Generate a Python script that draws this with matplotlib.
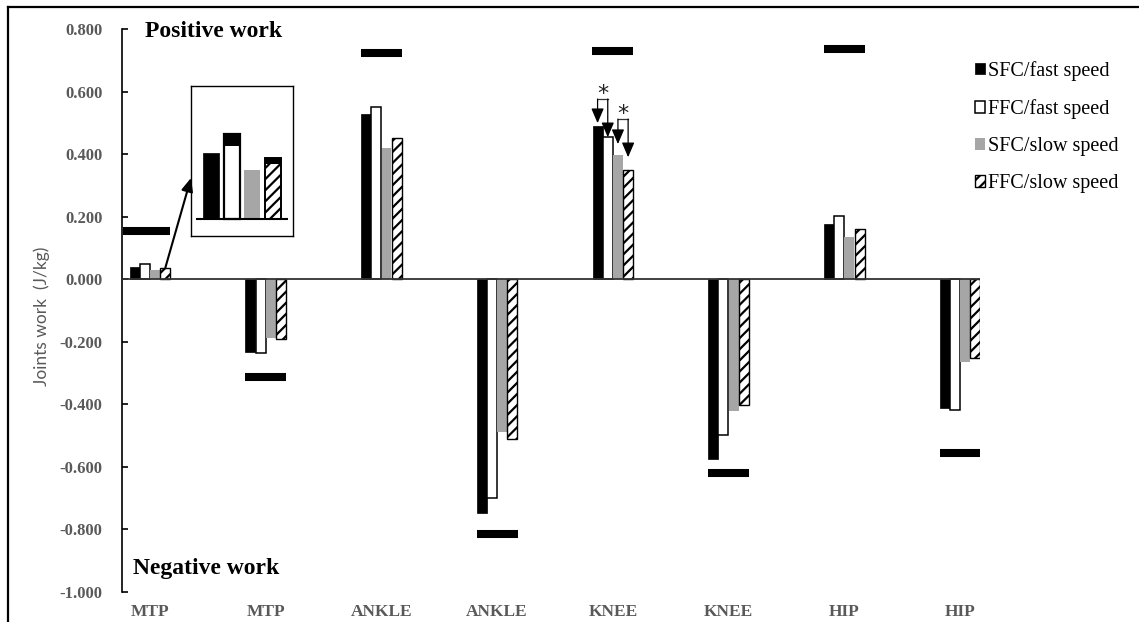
import matplotlib
matplotlib.use('Agg')
import matplotlib.pyplot as plt
import numpy as np
from matplotlib.patches import Patch, ConnectionPatch
from matplotlib.lines import Line2D

# ---------------- data ----------------
categories = ['MTP', 'MTP', 'ANKLE', 'ANKLE', 'KNEE', 'KNEE', 'HIP', 'HIP']
series_names = ['SFC/fast speed', 'FFC/fast speed', 'SFC/slow speed', 'FFC/slow speed']
sfc_fast = [0.039, -0.232, 0.528, -0.749, 0.490, -0.576, 0.176, -0.413]
ffc_fast = [0.050, -0.236, 0.551, -0.698, 0.454, -0.497, 0.202, -0.419]
sfc_slow = [0.029, -0.187, 0.419, -0.490, 0.397, -0.422, 0.134, -0.266]
ffc_slow = [0.036, -0.190, 0.451, -0.512, 0.349, -0.403, 0.160, -0.252]
ref_values = [0.153, -0.312, 0.724, -0.813, 0.730, -0.621, 0.736, -0.557]
ytick_values = [0.8, 0.6, 0.4, 0.2, 0.0, -0.2, -0.4, -0.6, -0.8, -1.0]

series = [sfc_fast, ffc_fast, sfc_slow, ffc_slow]

# ---------------- style ----------------
plt.rcParams['hatch.linewidth'] = 1.6
GRAY_TXT = '#595959'
BAR_GRAY = '#a6a6a6'
SERIF = 'Liberation Serif'

styles = [
    dict(facecolor='black', edgecolor='black', linewidth=0.5),
    dict(facecolor='white', edgecolor='black', linewidth=1.1),
    dict(facecolor=BAR_GRAY, edgecolor=BAR_GRAY, linewidth=0.0),
    dict(facecolor='white', edgecolor='black', linewidth=1.0, hatch='///'),
]

W, H = 1139, 622
fig = plt.figure(figsize=(W / 100, H / 100), dpi=100)
fig.patch.set_facecolor('white')

ax = fig.add_axes([122 / W, (H - 592) / H, (980 - 122) / W, (592 - 29) / H])

x = np.arange(len(categories))
step = 0.088
bw = 0.086
offsets = (np.arange(4) - 1.5) * step

for vals, off, st in zip(series, offsets, styles):
    ax.bar(x + off, vals, bw, zorder=3, **st)

# reference (thick) markers
ref_left_ext = np.array([0.06, 0, 0, 0, 0, 0, 0, 0])
ax.hlines(ref_values, x - 2 * step - ref_left_ext, x + 2 * step, colors='black',
          linewidth=5.8, zorder=3)

ax.axhline(0, color='#333333', linewidth=1.3, zorder=4)

ax.set_xlim(-0.242, 7.173)
ax.set_ylim(-1.0, 0.8)
for s in ['top', 'right', 'bottom']:
    ax.spines[s].set_visible(False)
ax.spines['left'].set_linewidth(1.2)
ax.spines['left'].set_color('black')

ax.set_yticks(ytick_values)
ax.set_yticklabels([f'{v:.3f}' for v in ytick_values])
ax.tick_params(axis='y', direction='in', length=4, width=1.2, pad=14,
               labelsize=12, labelcolor=GRAY_TXT)
ax.set_xticks(x)
ax.set_xticklabels(categories)
ax.tick_params(axis='x', length=0, pad=9, labelsize=12.5, labelcolor=GRAY_TXT)
for lbl in ax.get_xticklabels() + ax.get_yticklabels():
    lbl.set_fontfamily(SERIF)
    lbl.set_fontweight('bold')

# y label
fig.text(42 / W, (H - 316) / H, 'Joints work  (J/kg)', rotation=90, ha='center',
         va='center', fontsize=12.5, color=GRAY_TXT, family=['Lato', 'DejaVu Sans'])

# titles
fig.text(145 / W, (H - 37) / H, 'Positive work', fontsize=17, fontweight='bold',
         family=SERIF, va='baseline', ha='left')
fig.text(133 / W, (H - 574) / H, 'Negative work', fontsize=17, fontweight='bold',
         family=SERIF, va='baseline', ha='left')

# significance brackets on KNEE (positive)
k = 4
arrow_kw = dict(arrowstyle='-|>,head_length=0.75,head_width=0.32', color='black',
                lw=0.9, shrinkA=0, shrinkB=0, mutation_scale=12)
brackets = [  # (left series, right series, top, left gap, right gap)
    (0, 1, 0.576, 0.009, 0.000),
    (2, 3, 0.512, 0.035, 0.041),
]
for li, ri, top, gl, gr in brackets:
    xl = k + offsets[li]
    xr = k + offsets[ri]
    yl = series[li][k] + gl
    yr = series[ri][k] + gr
    ax.plot([xl, xr], [top, top], color='#333333', lw=0.9, zorder=5)
    ax.annotate('', xy=(xl, yl), xytext=(xl, top), arrowprops=arrow_kw, zorder=5)
    ax.annotate('', xy=(xr, yr), xytext=(xr, top), arrowprops=arrow_kw, zorder=5)
    ax.text((xl + xr) / 2, top - 0.004, '*', ha='center', va='baseline',
            fontsize=16, family='DejaVu Sans', color='#222222', zorder=5)

# legend
handles = [Patch(**st) for st in styles]
leg = fig.legend(handles, series_names, loc='upper left',
                 bbox_to_anchor=(975 / W, (H - 61) / H), frameon=False,
                 prop={'family': SERIF, 'size': 14.5}, handlelength=0.5,
                 handleheight=0.5, handletextpad=0.15, labelspacing=0.9,
                 borderpad=0, borderaxespad=0)

# inset (zoom of MTP positive)
ax_in = fig.add_axes([191 / W, (H - 236) / H, 102 / W, 150 / H])
inset_vals = [s[0] for s in series]
ix = np.arange(4)
ibw = 0.78
inset_styles = [
    dict(facecolor='black', edgecolor='black', linewidth=0.5),
    dict(facecolor='white', edgecolor='black', linewidth=1.6),
    dict(facecolor=BAR_GRAY, edgecolor=BAR_GRAY, linewidth=0.0),
    dict(facecolor='white', edgecolor='black', linewidth=1.4, hatch='///'),
]
for i, (v, st) in enumerate(zip(inset_vals, inset_styles)):
    ax_in.bar(ix[i], v, ibw, zorder=3, **st)
cap = [0, 0.0071, 0, 0.0035]
for i, v in enumerate(inset_vals):
    if cap[i] > 0:
        ax_in.bar(ix[i], cap[i], ibw, bottom=v - cap[i], color='black', zorder=4)
ax_in.hlines(0, -0.76, 3.73, color='black', lw=1.5, zorder=5)
ax_in.set_xlim(-1.0, 3.98)
ax_in.set_ylim(-0.01005, 0.0786)
ax_in.set_xticks([])
ax_in.set_yticks([])
for s in ax_in.spines.values():
    s.set_linewidth(1.0)
    s.set_color('black')

con = ConnectionPatch(xyA=(x[0] + offsets[3], ffc_slow[0]), coordsA=ax.transData,
                      xyB=(0, 0.387), coordsB=ax_in.transAxes,
                      arrowstyle='-|>,head_length=0.8,head_width=0.35',
                      mutation_scale=10, lw=1.5, color='black', shrinkA=0, shrinkB=0)
fig.add_artist(con)

# partial outer frame (top and left, as in the cropped original)
fig.add_artist(Line2D([8 / W, 8 / W], [0, (H - 7) / H], transform=fig.transFigure,
                      color='black', lw=1.6))
fig.add_artist(Line2D([8 / W, 1], [(H - 7) / H, (H - 7) / H], transform=fig.transFigure,
                      color='black', lw=1.6))

fig.savefig('out.png', dpi=100)
